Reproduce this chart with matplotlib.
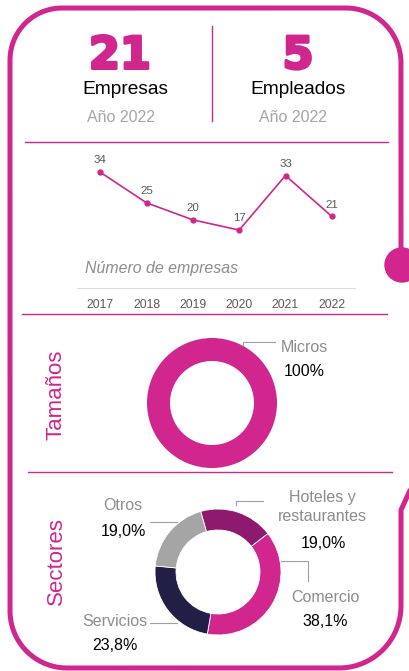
import numpy as np
import matplotlib
matplotlib.use("Agg")
import matplotlib.pyplot as plt
import matplotlib.patheffects as pe
from matplotlib import font_manager
from matplotlib.patches import Circle

# -----------------------------
# DATOS
# -----------------------------
empresas_total = "21"
empleados_total = "5"
anio_ref = "Año 2022"

years = [2017, 2018, 2019, 2020, 2021, 2022]
n_empresas = [34, 25, 20, 17, 33, 21]

tamanos = ["Micros"]
tamanos_pct = [100.0]

sectores = ["Hoteles y\nrestaurantes", "Comercio", "Servicios", "Otros"]
sectores_pct = [19.0, 38.1, 23.8, 19.0]

# -----------------------------
# ESTILO
# -----------------------------
MAG = "#D0268E"
PURPLE = "#8E1A6E"
NAVY = "#221F47"
GRAY = "#A5A5A5"
TXT_GRAY = "#8C8C8C"
DARK = "#595959"

names = {f.name for f in font_manager.fontManager.ttflist}
NARROW = "Liberation Sans Narrow" if "Liberation Sans Narrow" in names else "Liberation Sans"
SANS = "Liberation Sans"
k = 1.0 if NARROW.endswith("Narrow") else 0.92   # sin fuente estrecha, letra algo menor

W, H = 409, 671
fig = plt.figure(figsize=(W / 100, H / 100), dpi=100)

# fondo en coordenadas de pixel
bg = fig.add_axes([0, 0, 1, 1])
bg.set_xlim(0, W)
bg.set_ylim(H, 0)
bg.axis("off")


def arc(cx, cy, r, t0, t1, n=40):
    t = np.radians(np.linspace(t0, t1, n))
    return cx + r * np.cos(t), cy - r * np.sin(t)


# marco redondeado
xs, ys = [], []
for seg in [
    ([401], [252]),
    arc(346, 63, 55, 0, 90),
    arc(62, 60, 52, 90, 180),
    arc(67, 611, 57, 180, 270),
    arc(339, 606, 62, 270, 360),
    ([401, 412], [510, 486]),
]:
    xs.extend(seg[0])
    ys.extend(seg[1])
bg.plot(xs, ys, color=MAG, lw=3.6, solid_capstyle="round", solid_joinstyle="round")
bg.add_patch(Circle((402, 265), 17, color=MAG))

# -----------------------------
# CABECERA
# -----------------------------
heavy = [pe.withStroke(linewidth=2.2, foreground=MAG)]
bg.text(120, 56, empresas_total, ha="center", va="center", fontsize=32,
        fontweight="heavy", family="DejaVu Sans", color=MAG, path_effects=heavy)
bg.text(125, 89, "Empresas", ha="center", va="center", fontsize=15 * k, family=NARROW, color="black")
bg.text(121, 118, anio_ref, ha="center", va="center", fontsize=12.5 * k, family=NARROW, color=GRAY)

bg.text(298, 56, empleados_total, ha="center", va="center", fontsize=32,
        fontweight="heavy", family="DejaVu Sans", color=MAG, path_effects=heavy)
bg.text(298, 89, "Empleados", ha="center", va="center", fontsize=15 * k, family=NARROW, color="black")
bg.text(293, 118, anio_ref, ha="center", va="center", fontsize=12.5 * k, family=NARROW, color=GRAY)

bg.plot([212, 212], [26, 121], color=MAG, lw=1)
for yy, x0, x1 in [(142, 25, 388), (314, 22, 387), (472, 28, 392)]:
    bg.plot([x0, x1], [yy, yy], color=MAG, lw=1)

# -----------------------------
# LÍNEA: NÚMERO DE EMPRESAS
# -----------------------------
ax = fig.add_axes([77 / W, 1 - 288 / H, 278 / W, 138 / H])
ax.set_facecolor("none")
ax.plot(years, n_empresas, color=MAG, lw=1.2, marker="o", ms=3.5)
for x, v in zip(years, n_empresas):
    ax.annotate(str(v), (x, v), xytext=(0, 5), textcoords="offset points",
                ha="center", va="bottom", fontsize=9 * k, family=NARROW, color=DARK)
ax.set_xlim(2016.5, 2022.5)
ax.set_ylim(0, 40.5)
ax.set_xticks(years)
ax.set_xticklabels([str(y) for y in years], family=NARROW, fontsize=9.5 * k, color=DARK)
ax.set_yticks([])
ax.tick_params(axis="x", length=0, pad=8)
for s in ["top", "left", "right"]:
    ax.spines[s].set_visible(False)
ax.spines["bottom"].set_color("#DDDDDD")
ax.spines["bottom"].set_linewidth(0.8)

bg.text(85, 268, "Número de empresas", ha="left", va="center", fontsize=13 * 0.88,
        family=NARROW, style="italic", color=TXT_GRAY)

# -----------------------------
# TAMAÑOS
# -----------------------------
bg.text(56, 395, "Tamaños", rotation=90, ha="center", va="center", fontsize=16,
        family=SANS, color=MAG)
r1 = 65
ax1 = fig.add_axes([(212 - r1) / W, 1 - (403 + r1) / H, 2 * r1 / W, 2 * r1 / H])
ax1.pie(tamanos_pct, colors=[MAG], startangle=90, radius=1,
        wedgeprops=dict(width=23 / 65, linewidth=0))
ax1.set_xlim(-1, 1)
ax1.set_ylim(-1, 1)
ax1.axis("off")
bg.plot([243, 243, 275], [345, 342, 342], color="#A0A0A0", lw=0.8)
bg.text(281, 347, tamanos[0], ha="left", va="center", fontsize=12.5 * k, family=NARROW, color=TXT_GRAY)
bg.text(284, 371, "{:.0f}%".format(tamanos_pct[0]), ha="left", va="center",
        fontsize=12.5 * k, family=NARROW, color="black")

# -----------------------------
# SECTORES
# -----------------------------
bg.text(56, 561, "Sectores", rotation=90, ha="center", va="center", fontsize=16,
        family=SANS, color=MAG)
r2 = 63
ax2 = fig.add_axes([(218 - r2) / W, 1 - (572 + r2) / H, 2 * r2 / W, 2 * r2 / H])
ax2.pie(sectores_pct, colors=[PURPLE, MAG, NAVY, GRAY], startangle=106, counterclock=False,
        radius=1, wedgeprops=dict(width=21 / 63, edgecolor="white", linewidth=0.6))
ax2.set_xlim(-1, 1)
ax2.set_ylim(-1, 1)
ax2.axis("off")


def pct(v):
    return "{:.1f}%".format(v).replace(".", ",")


fs = 12.5 * k
# Hoteles y restaurantes
bg.plot([236, 236, 263], [505, 501, 501], color="#A0A0A0", lw=0.8)
bg.text(322, 507, sectores[0], ha="center", va="center", fontsize=fs, family=NARROW,
        color=TXT_GRAY, linespacing=1.4)
bg.text(323, 544, pct(sectores_pct[0]), ha="center", va="center", fontsize=fs,
        family=NARROW, color="black")
# Comercio
bg.plot([281, 308, 308], [561, 561, 581], color="#A0A0A0", lw=0.8)
bg.text(325, 598, sectores[1], ha="center", va="center", fontsize=fs, family=NARROW, color=TXT_GRAY)
bg.text(325, 621, pct(sectores_pct[1]), ha="center", va="center", fontsize=fs,
        family=NARROW, color="black")
# Servicios
bg.plot([150, 177], [623, 623], color="#A0A0A0", lw=0.8)
bg.text(115, 622, sectores[2], ha="center", va="center", fontsize=fs, family=NARROW, color=TXT_GRAY)
bg.text(115, 645, pct(sectores_pct[2]), ha="center", va="center", fontsize=fs,
        family=NARROW, color="black")
# Otros
bg.plot([150, 177], [522, 522], color="#A0A0A0", lw=0.8)
bg.text(123, 506, sectores[3], ha="center", va="center", fontsize=fs, family=NARROW, color=TXT_GRAY)
bg.text(123, 532, pct(sectores_pct[3]), ha="center", va="center", fontsize=fs,
        family=NARROW, color="black")

fig.savefig("out.png", dpi=100)
